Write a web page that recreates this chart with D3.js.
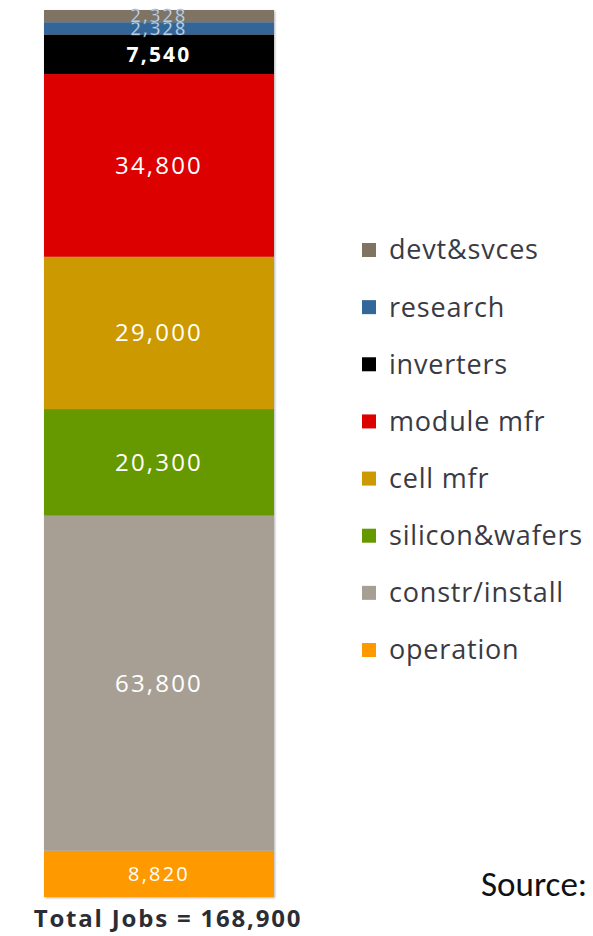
<!DOCTYPE html>
<html><head><meta charset="utf-8">
<script src="https://cdn.jsdelivr.net/npm/d3@7"></script>
<style>body{margin:0;background:#fff}svg{display:block}</style>
</head><body>
<svg id="c" width="593" height="936"></svg>
<script>
const categories = ["operation","constr/install","silicon&wafers","cell mfr","module mfr","inverters","research","devt&svces"];
const values = [8820, 63800, 20300, 29000, 34800, 7540, 2328, 2328];
const labels = ["8,820","63,800","20,300","29,000","34,800","7,540","2,328","2,328"];
const colors = ["#ff9900","#a89f94","#669900","#cc9900","#dd0000","#000000","#336699","#7f7364"];
const labelSizes = [20,24,24,24,24,21,18,18];
const total = "Total Jobs = 168,900";

const svg = d3.select("#c");
const row = {};
categories.forEach((c,i)=> row[c]=values[i]);
const series = d3.stack().keys(categories)([row]);
const sum = d3.sum(values);
const y = d3.scaleLinear().domain([0,sum]).range([897,10]);
const x = d3.scaleBand().domain(["jobs"]).range([44,274]).padding(0);

const defs = svg.append("defs");
const f = defs.append("filter").attr("id","sh").attr("x","-10%").attr("y","-10%").attr("width","120%").attr("height","120%");
f.append("feDropShadow").attr("dx",1).attr("dy",1).attr("stdDeviation",1.2).attr("flood-color","#000").attr("flood-opacity",0.3);

const g = svg.append("g").attr("filter","url(#sh)");
g.selectAll("rect").data(series).join("rect")
  .attr("x", x("jobs")).attr("width", x.bandwidth())
  .attr("y", d=>y(d[0][1])).attr("height", d=>y(d[0][0])-y(d[0][1]))
  .attr("fill",(d,i)=>colors[i]);

svg.append("g").selectAll("text").data(series).join("text")
  .attr("x", x("jobs")+x.bandwidth()/2)
  .attr("y", d=>(y(d[0][0])+y(d[0][1]))/2)
  .attr("dy","0.35em")
  .attr("text-anchor","middle")
  .attr("font-family","'Open Sans', 'DejaVu Sans', sans-serif")
  .attr("font-size",(d,i)=>labelSizes[i])
  .attr("letter-spacing",2.2)
  .attr("font-weight",(d,i)=> i===5 ? 700 : 500)
  .attr("fill",(d,i)=> i===6||i===7 ? "#dde8f4" : "#fff")
  .attr("stroke",(d,i)=> i===6||i===7 ? "#6688aa" : "none")
  .attr("stroke-width",0.4)
  .text((d,i)=>labels[i]);

// legend (top to bottom reversed order)
const legOrder = categories.map((c,i)=>i).reverse();
const leg = svg.append("g");
const ly = d3.scalePoint().domain(legOrder).range([250,650]);
legOrder.forEach(i=>{
  leg.append("rect").attr("x",362).attr("y",ly(i)-7).attr("width",14).attr("height",14).attr("fill",colors[i]);
  leg.append("text").attr("x",389).attr("y",ly(i)).attr("dy","0.35em")
    .attr("font-family","'Open Sans', 'Noto Sans', sans-serif").attr("font-size",27)
    .attr("letter-spacing",0.8).attr("font-weight",500)
    .attr("fill","#3a3a44").text(categories[i]);
});

svg.append("text").attr("x",168).attr("y",927).attr("text-anchor","middle")
  .attr("font-family","'Open Sans', 'DejaVu Sans', sans-serif").attr("font-weight",700)
  .attr("font-size",24).attr("letter-spacing",1.8).attr("fill","#2c2c34").text(total);

svg.append("text").attr("x",481).attr("y",896)
  .attr("font-family","Carlito, Calibri, 'Liberation Sans', sans-serif")
  .attr("font-size",35).attr("fill","#111").text("Source:");
</script>
</body></html>
